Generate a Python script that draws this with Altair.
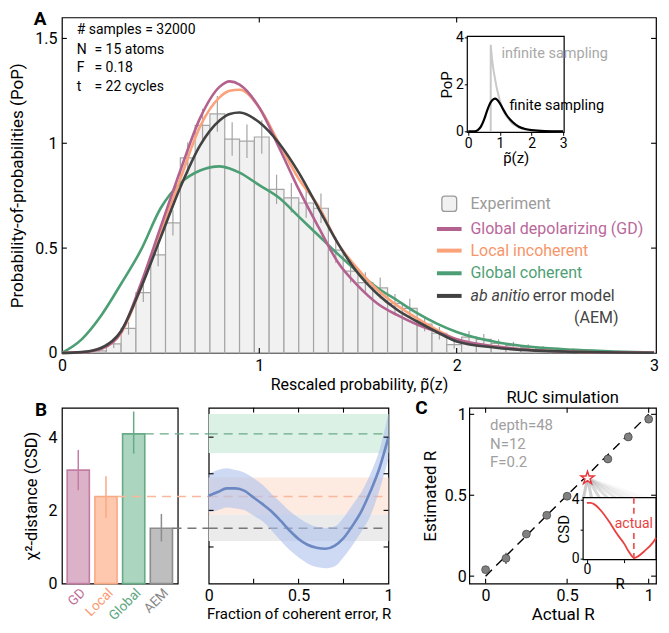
import altair as alt
import pandas as pd

FONT = "Roboto"

# ================= Panel A : experimental PoP histogram =================
hist_left = [0.075, 0.15, 0.225, 0.3, 0.375, 0.45, 0.525, 0.6, 0.675, 0.75,
             0.825, 0.9, 0.975, 1.05, 1.125, 1.2, 1.275, 1.35, 1.425, 1.5,
             1.575, 1.65, 1.725, 1.8, 1.875, 1.95, 2.025, 2.1, 2.175, 2.25,
             2.325, 2.4, 2.475, 2.55, 2.625, 2.7, 2.775, 2.85, 2.925]
hist_pop = [0.002, 0.01, 0.043, 0.117, 0.288, 0.468, 0.62, 0.93, 1.085, 1.14,
            1.02, 1.01, 1.03, 0.78, 0.74, 0.715, 0.69, 0.49, 0.39, 0.335,
            0.31, 0.236, 0.213, 0.138, 0.094, 0.04, 0.075, 0.065, 0.045, 0.035,
            0.027, 0.02, 0.015, 0.012, 0.009, 0.007, 0.005, 0.004, 0.003]
hist_err = [0.003, 0.008, 0.02, 0.03, 0.045, 0.055, 0.06, 0.075, 0.08, 0.085,
            0.08, 0.08, 0.08, 0.07, 0.07, 0.07, 0.07, 0.06, 0.055, 0.05,
            0.05, 0.045, 0.045, 0.035, 0.03, 0.02, 0.03, 0.025, 0.02, 0.018,
            0.015, 0.013, 0.011, 0.01, 0.008, 0.007, 0.006, 0.005, 0.004]
BIN_W = 0.075

curve_x = [0, 0.1, 0.2, 0.3, 0.4, 0.5, 0.6, 0.7, 0.8, 0.85, 0.9, 1.0, 1.1, 1.2,
           1.3, 1.4, 1.5, 1.6, 1.7, 1.8, 1.9, 2.0, 2.2, 2.4, 2.6, 2.8, 3.0]
curve_gd = [0, 0.003, 0.02, 0.1, 0.33, 0.6, 0.87, 1.12, 1.27, 1.295, 1.28, 1.17, 0.98, 0.78,
            0.6, 0.43, 0.32, 0.235, 0.18, 0.135, 0.1, 0.065, 0.03, 0.013, 0.006, 0.003, 0.001]
curve_local = [0, 0.003, 0.02, 0.095, 0.31, 0.57, 0.83, 1.08, 1.22, 1.25, 1.255, 1.17, 1.0, 0.83,
               0.7, 0.52, 0.4, 0.3, 0.225, 0.165, 0.11, 0.065, 0.03, 0.013, 0.006, 0.003, 0.001]
curve_global = [0, 0.065, 0.18, 0.33, 0.49, 0.69, 0.81, 0.87, 0.89, 0.88, 0.86, 0.8, 0.74, 0.65,
                0.56, 0.47, 0.385, 0.31, 0.25, 0.19, 0.14, 0.1, 0.052, 0.027, 0.015, 0.007, 0.002]
curve_aem = [0, 0.004, 0.025, 0.105, 0.31, 0.55, 0.79, 0.99, 1.11, 1.14, 1.147, 1.1, 1.0, 0.86,
             0.69, 0.52, 0.38, 0.28, 0.205, 0.15, 0.1, 0.055, 0.025, 0.011, 0.005, 0.002, 0.001]

model_names = ["Global depolarizing (GD)", "Local incoherent", "Global coherent"]
model_line_colors = ["#b3628f", "#fba27a", "#4c9e74", "#424242"]
model_text_colors = ["#b9679a", "#f7966c", "#4f9f76", "#444444"]

info_head = "# samples = 32000"
info_keys = ["N", "F", "t"]
info_vals = ["= 15 atoms", "= 0.18", "= 22 cycles"]

# inset: infinite vs finite sampling
inf_x = [0.71, 0.71, 0.75, 0.8, 0.9, 1.0, 1.1, 1.2, 1.4, 1.6, 1.8, 2.0, 2.4, 3.0]
inf_y = [0, 3.7, 3.1, 2.6, 1.85, 1.3, 0.92, 0.65, 0.32, 0.16, 0.08, 0.04, 0.01, 0.0]
fin_x = [0, 0.2, 0.3, 0.4, 0.5, 0.6, 0.7, 0.8, 0.85, 0.9, 1.0, 1.1, 1.2, 1.4, 1.6, 1.8, 2.0, 2.4, 3.0]
fin_y = [0, 0.005, 0.05, 0.2, 0.5, 0.9, 1.22, 1.38, 1.4, 1.37, 1.2, 0.95, 0.72, 0.4, 0.2, 0.1, 0.05, 0.012, 0.0]

# ================= Panel B =================
models = ["GD", "Local", "Global", "AEM"]
csd = [3.1, 2.38, 4.09, 1.51]
csd_lo = [2.55, 1.8, 3.55, 1.15]
csd_hi = [3.65, 2.93, 4.7, 1.9]
bar_fill = ["#dcb2c8", "#fdc8ae", "#abd5be", "#bebebe"]
bar_stroke = ["#c27ea2", "#f8a985", "#66ab86", "#8c8c8c"]
label_colors = ["#c0709a", "#f99a70", "#5aa67e", "#888888"]
dash_colors = ["#f9b79c", "#6aaa86", "#777777"]

band_lo = [3.57, 1.88, 1.16]
band_hi = [4.63, 2.9, 1.88]
band_fill = ["#dcf1e5", "#fdeae0", "#ebebeb"]

R_grid = [0, 0.05, 0.1, 0.15, 0.2, 0.25, 0.3, 0.35, 0.4, 0.45, 0.5,
          0.55, 0.6, 0.65, 0.7, 0.75, 0.8, 0.85, 0.9, 0.95, 1.0]
blue_mean = [2.4, 2.5, 2.6, 2.6, 2.53, 2.35, 2.17, 1.97, 1.72, 1.45, 1.22,
             1.06, 0.98, 0.95, 1.03, 1.24, 1.58, 1.98, 2.52, 3.15, 4.0]
blue_hi = [3.0, 3.1, 3.15, 3.1, 3.03, 2.88, 2.7, 2.45, 2.22, 1.98, 1.8,
           1.65, 1.55, 1.52, 1.56, 1.8, 2.15, 2.5, 3.0, 3.65, 4.65]
blue_lo = [1.94, 2.0, 2.08, 2.05, 2.0, 1.85, 1.7, 1.45, 1.18, 0.92, 0.72,
           0.55, 0.45, 0.42, 0.47, 0.72, 1.05, 1.42, 1.85, 2.55, 3.4]

# ================= Panel C =================
actual_R = [0, 0.125, 0.25, 0.375, 0.5, 0.75, 0.875, 1.0]
est_R = [0.04, 0.11, 0.26, 0.376, 0.494, 0.724, 0.86, 0.97]
est_err = [0.015, 0.035, 0.02, 0.02, 0.02, 0.02, 0.02, 0.015]
star_R = [0.625]
star_est = [0.606]
sim_info = ["depth=48", "N=12", "F=0.2"]

csd_R = [0, 0.05, 0.1, 0.2, 0.3, 0.4, 0.5, 0.55, 0.6, 0.63, 0.68, 0.76, 0.87, 0.92]
csd_val = [3.8, 3.8, 3.7, 3.2, 2.5, 1.7, 1.0, 0.55, 0.18, 0.06, 0.17, 0.5, 1.05, 1.42]

fan_end = [0.6, 0.65, 0.7, 0.75, 0.8, 0.85, 0.9, 0.95, 1.0]
fan_alpha = [0.45, 0.4, 0.34, 0.28, 0.22, 0.16, 0.11, 0.06, 0.03]

# ---------------------------------------------------------------
WA, HA = 595, 336
WBL, WBR, HB = 116, 180, 176
WC = 187
GAP_B = 31
GAP_C = 81

def XQ(f, sc, ax):
    return alt.X(f, scale=sc, axis=ax)

def YQ(f, sc, ax):
    return alt.Y(f, scale=sc, axis=ax)


def inward_ticks(xvals, yvals, xdom, ydom, xlen, ylen, sx, sy, ax, ay):
    """Short tick marks drawn inside the frame (box style)."""
    rows = []
    for v in yvals:
        rows.append((xdom[0], xdom[0] + xlen, v, v))
        rows.append((xdom[1] - xlen, xdom[1], v, v))
    for v in xvals:
        rows.append((v, v, ydom[0], ydom[0] + ylen))
        rows.append((v, v, ydom[1] - ylen, ydom[1]))
    df = pd.DataFrame(rows, columns=["x", "x2", "y", "y2"])
    return alt.Chart(df).mark_rule(color="black", strokeWidth=1.1).encode(
        x=XQ("x:Q", sx, ax), x2="x2:Q", y=YQ("y:Q", sy, ay), y2="y2:Q")


# ---------- Panel A main ----------
XA_DOM, YA_DOM = [0, 3.01], [0, 1.6]
xA = alt.Scale(domain=XA_DOM, nice=False, zero=False)
yA = alt.Scale(domain=YA_DOM, nice=False, zero=False)
axA_x = alt.Axis(values=[0, 1, 2, 3], title="Rescaled probability, p\u0303(z)",
                 labelFontSize=16, titleFontSize=16, labelPadding=5, titlePadding=3)
axA_y = alt.Axis(values=[0, 0.5, 1, 1.5], format="~g", title="Probability-of-probabilities (PoP)",
                 labelFontSize=16, titleFontSize=17, labelPadding=5, titlePadding=8)

hist_df = pd.DataFrame({"left": hist_left, "pop": hist_pop, "err": hist_err})
hist_df["right"] = hist_df["left"] + BIN_W
hist_df["mid"] = hist_df["left"] + BIN_W / 2
hist_df["lo"] = hist_df["pop"] - hist_df["err"]
hist_df["hi"] = hist_df["pop"] + hist_df["err"]
hist_df["zero"] = 0.0

bars_A = alt.Chart(hist_df).mark_rect(fill="#f1f1f1", stroke="#a5a5a5", strokeWidth=1.2).encode(
    x=XQ("left:Q", xA, axA_x), x2="right:Q", y=YQ("zero:Q", yA, axA_y), y2="pop:Q")
errs_A = alt.Chart(hist_df).mark_rule(color="#a5a5a5", strokeWidth=1.2).encode(
    x=XQ("mid:Q", xA, axA_x), y=YQ("lo:Q", yA, axA_y), y2="hi:Q")


def curve(ys, color):
    df = pd.DataFrame({"x": curve_x, "y": ys})
    return alt.Chart(df).mark_line(color=color, strokeWidth=2.6, interpolate="monotone").encode(
        x=XQ("x:Q", xA, axA_x), y=YQ("y:Q", yA, axA_y))


curves_A = [curve(curve_global, model_line_colors[2]), curve(curve_local, model_line_colors[1]),
            curve(curve_gd, model_line_colors[0]), curve(curve_aem, model_line_colors[3])]


def text_A(df, **mk):
    return alt.Chart(df).mark_text(font=FONT, **mk).encode(
        x=XQ("x:Q", xA, axA_x), y=YQ("y:Q", yA, axA_y), text="t:N",
        color=alt.Color("c:N", scale=None))


# annotation block (top-left)
info_y = [1.445, 1.36, 1.27]
info_df = pd.DataFrame({"x": [0.075] * 3, "y": info_y, "t": info_keys, "c": ["black"] * 3})
info_df2 = pd.DataFrame({"x": [0.165] * 3, "y": info_y, "t": info_vals, "c": ["black"] * 3})
head_df = pd.DataFrame({"x": [0.075], "y": [1.54], "t": [info_head], "c": ["black"]})
letter_A = pd.DataFrame({"x": [-0.11], "y": [1.592], "t": ["A"], "c": ["black"]})

# legend (drawn in data space)
leg_line_y = [0.591, 0.488, 0.38, 0.272]
leg_lines = pd.DataFrame({"x": [1.9] * 4, "x2": [2.025] * 4, "y": leg_line_y, "c": model_line_colors})
leg_rules = alt.Chart(leg_lines).mark_rule(strokeWidth=4).encode(
    x=XQ("x:Q", xA, axA_x), x2="x2:Q", y=YQ("y:Q", yA, axA_y), color=alt.Color("c:N", scale=None))
exp_sw = pd.DataFrame({"x": [1.925], "x2": [2.0], "y": [0.675], "y2": [0.748]})
leg_swatch = alt.Chart(exp_sw).mark_rect(fill="#f1f1f1", stroke="#9a9a9a", strokeWidth=1.3,
                                         cornerRadius=3).encode(
    x=XQ("x:Q", xA, axA_x), x2="x2:Q", y=YQ("y:Q", yA, axA_y), y2="y2:Q")
leg_txt = pd.DataFrame({"x": [2.07] * 4, "y": [0.711] + leg_line_y[:3],
                        "t": ["Experiment"] + model_names,
                        "c": ["#9b9b9b"] + model_text_colors[:3]})
leg_ital = pd.DataFrame({"x": [2.07], "y": [leg_line_y[3]], "t": ["ab anitio"], "c": [model_text_colors[3]]})
leg_rest = pd.DataFrame({"x": [2.385], "y": [leg_line_y[3]], "t": ["error model"], "c": [model_text_colors[3]]})
leg_aem = pd.DataFrame({"x": [2.82], "y": [0.169], "t": ["(AEM)"], "c": [model_text_colors[3]]})

ticks_A = inward_ticks([1, 2], [0.5, 1, 1.5], XA_DOM, YA_DOM, 0.025, 0.024, xA, yA, axA_x, axA_y)

main_A = alt.layer(
    bars_A, errs_A, *curves_A, ticks_A,
    text_A(head_df, fontSize=14, align="left", baseline="middle"),
    text_A(info_df, fontSize=14, align="left", baseline="middle"),
    text_A(info_df2, fontSize=14, align="left", baseline="middle"),
    text_A(letter_A, fontSize=19, fontWeight="bold", align="center", baseline="middle"),
    leg_rules, leg_swatch,
    text_A(leg_txt, fontSize=16, align="left", baseline="middle"),
    text_A(leg_ital, fontSize=16, fontStyle="italic", align="left", baseline="middle"),
    text_A(leg_rest, fontSize=16, align="left", baseline="middle"),
    text_A(leg_aem, fontSize=16, align="right", baseline="middle"),
)

# ---------- Panel A inset ----------
IA_L, IA_R, IA_T, IA_B = 406, 503, 19, 115
xI = alt.Scale(domain=[-0.03, 3.03], range=[IA_L, IA_R], nice=False, zero=False)
yI = alt.Scale(domain=[-0.04, 4.06], range=[IA_B, IA_T], nice=False, zero=False)
axI_x = alt.Axis(values=[0, 1, 2, 3], orient="bottom", offset=-(HA - IA_B), title="p\u0303(z)",
                 labelFontSize=14, titleFontSize=15, ticks=True, tickSize=3, tickColor="black",
                 labelPadding=1, titlePadding=0)
axI_y = alt.Axis(values=[0, 2, 4], orient="left", offset=-IA_L, title="PoP",
                 labelFontSize=14, titleFontSize=15, ticks=True, tickSize=3, tickColor="black",
                 labelPadding=1, titlePadding=1)

inset_box = alt.Chart(pd.DataFrame({"x": [-0.03], "x2": [3.03], "y": [-0.04], "y2": [4.06]})).mark_rect(
    fill="white", stroke="black", strokeWidth=1.2).encode(
    x=XQ("x:Q", xI, axI_x), x2="x2:Q", y=YQ("y:Q", yI, axI_y), y2="y2:Q")
inf_line = alt.Chart(pd.DataFrame({"x": inf_x, "y": inf_y})).mark_line(color="#c9c9c9", strokeWidth=2).encode(
    x=XQ("x:Q", xI, axI_x), y=YQ("y:Q", yI, axI_y))
fin_line = alt.Chart(pd.DataFrame({"x": fin_x, "y": fin_y})).mark_line(
    color="black", strokeWidth=2.2, interpolate="monotone").encode(
    x=XQ("x:Q", xI, axI_x), y=YQ("y:Q", yI, axI_y))
inset_txt = alt.Chart(pd.DataFrame({"x": [1.05, 1.3], "y": [3.3, 1.1],
                                    "t": ["infinite sampling", "finite sampling"],
                                    "c": ["#a8a8a8", "black"]})).mark_text(
    font=FONT, fontSize=14.5, align="left", baseline="middle").encode(
    x=XQ("x:Q", xI, axI_x), y=YQ("y:Q", yI, axI_y), text="t:N", color=alt.Color("c:N", scale=None))

inset_A = alt.layer(inset_box, inf_line, fin_line, inset_txt)

panel_A = alt.layer(main_A, inset_A).resolve_scale(x="independent", y="independent").properties(
    width=WA, height=HA)

# ---------- Panel B left ----------
yB = alt.Scale(domain=[0, 4.8], nice=False, zero=False)
xBL = alt.Scale(domain=models, paddingInner=0.2, paddingOuter=0.19)
label_color_cond = {
    "condition": [{"test": "datum.value === '%s'" % m, "value": c}
                  for m, c in zip(models[:3], label_colors[:3])],
    "value": label_colors[3],
}
axBL_x = alt.Axis(title=None, labelAngle=-45, labelFontSize=13.5, labelPadding=2,
                  labelColor=label_color_cond)
axBL_y = alt.Axis(values=[0, 2, 4], title="\u03c7\u00b2-distance (CSD)", labelFontSize=16,
                  titleFontSize=16.5, labelPadding=5, titlePadding=8)

bl_df = pd.DataFrame({"model": models, "csd": csd, "lo": csd_lo, "hi": csd_hi})
stroke_scale = alt.Scale(domain=models, range=bar_stroke)
bars_B = alt.Chart(bl_df).mark_bar(strokeWidth=1.6).encode(
    x=alt.X("model:N", scale=xBL, axis=axBL_x),
    y=alt.Y("csd:Q", scale=yB, axis=axBL_y),
    fill=alt.Fill("model:N", scale=alt.Scale(domain=models, range=bar_fill), legend=None),
    stroke=alt.Stroke("model:N", scale=stroke_scale, legend=None))
errs_B = alt.Chart(bl_df).mark_rule(strokeWidth=1.5).encode(
    x=alt.X("model:N", scale=xBL, axis=axBL_x),
    y=alt.Y("lo:Q", scale=yB, axis=axBL_y), y2="hi:Q",
    stroke=alt.Stroke("model:N", scale=stroke_scale, legend=None))
dash_df = pd.DataFrame({"model": models[1:], "csd": csd[1:], "c": dash_colors})
dash_B = alt.Chart(dash_df).mark_rule(strokeWidth=1.4, strokeDash=[9, 6]).encode(
    x=alt.X("model:N", scale=xBL, axis=axBL_x, bandPosition=1),
    x2=alt.value(WBL + GAP_B),
    y=alt.Y("csd:Q", scale=yB, axis=axBL_y),
    color=alt.Color("c:N", scale=None))
letter_B = alt.Chart(pd.DataFrame({"t": ["B"]})).mark_text(
    font=FONT, fontSize=19, fontWeight="bold", align="center", baseline="middle").encode(
    x=alt.value(-21), y=alt.value(2), text="t:N")
panel_BL = alt.layer(bars_B, errs_B, dash_B, letter_B).properties(width=WBL, height=HB)

# ---------- Panel B right ----------
xBR = alt.Scale(domain=[0, 1], nice=False, zero=False)
axBR_x = alt.Axis(values=[0, 0.5, 1], format="~g", title="Fraction of coherent error, R",
                  labelFontSize=16, titleFontSize=15, labelPadding=4, titlePadding=3)
axBR_y = alt.Axis(labels=False, ticks=False, title=None, domain=False)

band_df = pd.DataFrame({"x0": [0] * 3, "x1": [1] * 3, "lo": band_lo, "hi": band_hi, "c": band_fill})
bands = alt.Chart(band_df).mark_rect().encode(
    x=alt.X("x0:Q", scale=xBR, axis=axBR_x), x2="x1:Q",
    y=alt.Y("lo:Q", scale=yB, axis=axBR_y), y2="hi:Q", fill=alt.Fill("c:N", scale=None))
dash_r_df = pd.DataFrame({"x0": [0] * 3, "x1": [1] * 3, "v": csd[1:], "c": dash_colors})
dash_R = alt.Chart(dash_r_df).mark_rule(strokeWidth=1.4, strokeDash=[9, 6]).encode(
    x=alt.X("x0:Q", scale=xBR, axis=axBR_x), x2="x1:Q",
    y=alt.Y("v:Q", scale=yB, axis=axBR_y), color=alt.Color("c:N", scale=None))
blue_df = pd.DataFrame({"R": R_grid, "m": blue_mean, "lo": blue_lo, "hi": blue_hi})
blue_band = alt.Chart(blue_df).mark_area(color="#aec2ec", opacity=0.6, interpolate="monotone").encode(
    x=alt.X("R:Q", scale=xBR, axis=axBR_x), y=alt.Y("lo:Q", scale=yB, axis=axBR_y), y2="hi:Q")
blue_line = alt.Chart(blue_df).mark_line(color="#6c88c3", strokeWidth=2.6, interpolate="monotone").encode(
    x=alt.X("R:Q", scale=xBR, axis=axBR_x), y=alt.Y("m:Q", scale=yB, axis=axBR_y))
ticks_BR = inward_ticks([0.25, 0.5, 0.75], [1, 2, 3, 4], [0, 1], [0, 4.8], 0.027, 0.13,
                        xBR, yB, axBR_x, axBR_y)
panel_BR = alt.layer(bands, dash_R, blue_band, blue_line, ticks_BR).properties(width=WBR, height=HB)

# ---------- spacer between B and C ----------
spacer = alt.Chart(pd.DataFrame({"a": [0]})).mark_point(opacity=0).encode(
    x=alt.X("a:Q", axis=None), y=alt.Y("a:Q", axis=None)).properties(
    width=GAP_C - 2 * GAP_B, height=HB, view=alt.ViewBackground(strokeWidth=0, strokeOpacity=0))

# ---------- Panel C ----------
XC_DOM, YC_DOM = [-0.1, 1.045], [-0.046, 1.04]
xC = alt.Scale(domain=XC_DOM, nice=False, zero=False)
yC = alt.Scale(domain=YC_DOM, nice=False, zero=False)
axC_x = alt.Axis(values=[0, 0.5, 1], format="~g", title="Actual R", labelFontSize=16,
                 titleFontSize=17, labelPadding=4, titlePadding=3)
axC_y = alt.Axis(values=[0, 0.5, 1], format="~g", title="Estimated R", labelFontSize=16,
                 titleFontSize=17, labelPadding=3, titlePadding=5)

fan_df = pd.DataFrame({"x": star_R * len(fan_end), "y": star_est * len(fan_end),
                       "x2": fan_end, "y2": [0.482] * len(fan_end), "a": fan_alpha})
fan = alt.Chart(fan_df).mark_rule(color="#8a8a8a", strokeWidth=3).encode(
    x=XQ("x:Q", xC, axC_x), y=YQ("y:Q", yC, axC_y), x2="x2:Q", y2="y2:Q",
    opacity=alt.Opacity("a:Q", scale=None))
diag = alt.Chart(pd.DataFrame({"x": [0, 1], "y": [0, 1]})).mark_line(
    color="black", strokeWidth=1.4, strokeDash=[9, 6]).encode(
    x=XQ("x:Q", xC, axC_x), y=YQ("y:Q", yC, axC_y))
pts_df = pd.DataFrame({"x": actual_R, "y": est_R, "lo": [e - d for e, d in zip(est_R, est_err)],
                       "hi": [e + d for e, d in zip(est_R, est_err)]})
pt_err = alt.Chart(pts_df).mark_rule(color="#555555", strokeWidth=1.3).encode(
    x=XQ("x:Q", xC, axC_x), y=YQ("lo:Q", yC, axC_y), y2="hi:Q")
pts = alt.Chart(pts_df).mark_point(filled=True, size=62, fill="#808080", stroke="#4a4a4a",
                                   strokeWidth=0.8, opacity=1).encode(
    x=XQ("x:Q", xC, axC_x), y=YQ("y:Q", yC, axC_y))
STAR = "M0,-1L0.2245,-0.309L0.951,-0.309L0.363,0.118L0.588,0.809L0,0.382L-0.588,0.809L-0.363,0.118L-0.951,-0.309L-0.2245,-0.309Z"
star = alt.Chart(pd.DataFrame({"x": star_R, "y": star_est})).mark_point(
    shape=STAR, size=190, filled=True, fill="white", stroke="#e8333a", strokeWidth=1.4, opacity=1).encode(
    x=XQ("x:Q", xC, axC_x), y=YQ("y:Q", yC, axC_y))
info_C = alt.Chart(pd.DataFrame({"x": [0.027] * 3, "y": [0.932, 0.818, 0.704], "t": sim_info})).mark_text(
    font=FONT, fontSize=15, color="#a0a0a0", align="left", baseline="middle").encode(
    x=XQ("x:Q", xC, axC_x), y=YQ("y:Q", yC, axC_y), text="t:N")
letter_C = alt.Chart(pd.DataFrame({"t": ["C"]})).mark_text(
    font=FONT, fontSize=19, fontWeight="bold", align="center", baseline="middle").encode(
    x=alt.value(-48), y=alt.value(0), text="t:N")
ticks_C = inward_ticks([0, 0.5, 1], [0, 0.5, 1], XC_DOM, YC_DOM, 0.03, 0.03, xC, yC, axC_x, axC_y)
main_C = alt.layer(fan, diag, pt_err, pts, star, info_C, letter_C, ticks_C)

# inset of C
IC_L, IC_R, IC_T, IC_B = 114, WC, 90, 152
xCI = alt.Scale(domain=[-0.05, 0.92], range=[IC_L, IC_R], nice=False, zero=False)
yCI = alt.Scale(domain=[-0.05, 4.15], range=[IC_B, IC_T], nice=False, zero=False)
axCI_x = alt.Axis(values=[0, 0.5], labelExpr="datum.value == 0 ? '0' : ''", orient="bottom",
                  offset=-(HB - IC_B), title="R", labelFontSize=14, titleFontSize=15, ticks=True,
                  tickSize=3, tickColor="black", labelPadding=0, titlePadding=0)
axCI_y = alt.Axis(values=[0, 2, 4], labelExpr="datum.value == 2 ? '' : datum.label", orient="left",
                  offset=-IC_L, title="CSD", labelFontSize=14, titleFontSize=15, ticks=True,
                  tickSize=3, tickColor="black", labelPadding=1, titlePadding=0)
cbox = alt.Chart(pd.DataFrame({"x": [-0.05], "x2": [0.92], "y": [-0.05], "y2": [4.15]})).mark_rect(
    fill="white", stroke="black", strokeWidth=1.2).encode(
    x=XQ("x:Q", xCI, axCI_x), x2="x2:Q", y=YQ("y:Q", yCI, axCI_y), y2="y2:Q")
ccurve = alt.Chart(pd.DataFrame({"x": csd_R, "y": csd_val})).mark_line(
    color="#e8413f", strokeWidth=1.8, interpolate="monotone").encode(
    x=XQ("x:Q", xCI, axCI_x), y=YQ("y:Q", yCI, axCI_y))
cdash = alt.Chart(pd.DataFrame({"x": star_R * 2, "y": [4.15, 1.75], "y2": [2.95, -0.05]})).mark_rule(
    color="#e85a5a", strokeWidth=1.8, strokeDash=[6, 4]).encode(
    x=XQ("x:Q", xCI, axCI_x), y=YQ("y:Q", yCI, axCI_y), y2="y2:Q")
ctext = alt.Chart(pd.DataFrame({"x": star_R, "y": [2.35], "t": ["actual"]})).mark_text(
    font=FONT, fontSize=14, color="#e8413f", align="center", baseline="middle").encode(
    x=XQ("x:Q", xCI, axCI_x), y=YQ("y:Q", yCI, axCI_y), text="t:N")
inset_C = alt.layer(cbox, ccurve, cdash, ctext)

panel_C = alt.layer(main_C, inset_C).resolve_scale(x="independent", y="independent").properties(
    width=WC, height=HB,
    title=alt.TitleParams("RUC simulation", fontSize=16.5, fontWeight="normal", font=FONT, offset=-8))

# ---------- layout ----------
row_2 = alt.HConcatChart(hconcat=[panel_BL, panel_BR, spacer, panel_C], spacing=GAP_B, bounds="flush")
chart = alt.VConcatChart(vconcat=[panel_A, row_2], spacing=55, bounds="flush").properties(
    padding={"left": 0, "top": 1, "right": 0, "bottom": 0}
).configure(font=FONT, background="white").configure_view(
    stroke="black", strokeWidth=1.2
).configure_axis(
    labelFont=FONT, titleFont=FONT, labelColor="black", titleColor="black", grid=False,
    domain=False, ticks=False, titleFontWeight="normal", labelFlush=False
).configure_text(font=FONT)

chart.save("out.html", embed_options={"renderer": "svg", "actions": False})
